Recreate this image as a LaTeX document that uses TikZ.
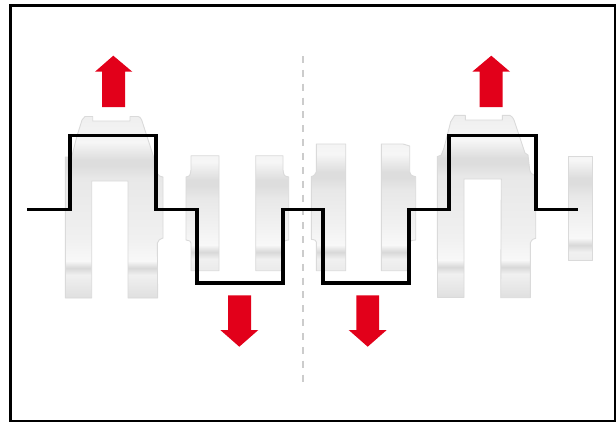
\documentclass[tikz,border=0pt]{standalone}
\definecolor{arrowred}{HTML}{E2001A}
\definecolor{edgegray}{HTML}{DADADA}
\definecolor{gA}{HTML}{EAEAEA}
\definecolor{gB}{HTML}{F6F6F6}
\definecolor{gC}{HTML}{DDDDDD}
\definecolor{gD}{HTML}{E8E8E8}
\definecolor{gDD}{HTML}{F0F0F0}
\definecolor{gE}{HTML}{F8F8F8}
\definecolor{gF}{HTML}{D8D8D8}
\definecolor{gG}{HTML}{F0F0F0}
\definecolor{gH}{HTML}{DEDEDE}
% shading in picture pixels: rectangle y=100..300 maps to 75bp..25bp
\newcommand{\declcrank}[3]{%
  \pgfmathsetmacro{\pa}{100-(#2+6)/4}%
  \pgfmathsetmacro{\pb}{100-#2/4}%
  \pgfmathsetmacro{\pc}{100-(#2-18)/4}%
  \pgfmathsetmacro{\pd}{100-(#3+7)/4}%
  \pgfmathsetmacro{\pe}{100-#3/4}%
  \pgfmathsetmacro{\pf}{100-(#3-7)/4}%
  \pgfmathsetmacro{\pg}{100-(#3-30)/4}%
  \pgfmathsetmacro{\ph}{100-(#2+18)/4}%
  \edef\tmpdecl{\noexpand\pgfdeclareverticalshading{#1}{100bp}{%
    color(0bp)=(gH); color(25bp)=(gH); color(\pd bp)=(gG); color(\pe bp)=(gF); color(\pf bp)=(gE);
    color(\pg bp)=(gDD); color(\ph bp)=(gD); color(\pa bp)=(gC); color(\pb bp)=(gC); color(\pc bp)=(gB); color(75bp)=(gA); color(100bp)=(gA)}}%
  \tmpdecl}
\declcrank{crankA}{160}{268}
\declcrank{crankB}{180}{252}
\declcrank{crankC}{172}{252}
\declcrank{crankD}{158}{267}
\declcrank{crankE}{178}{245}
\newcommand{\crank}[2]{%
  \begin{scope}
    \clip #2;
    \shade[shading=#1] (0,100) rectangle (616,300);
  \end{scope}
  \draw[piece] #2;}
\tikzset{
  piece/.style={draw=edgegray,line width=0.9pt,line join=round},
  bigarrow/.style={fill=arrowred,draw=none},
  wave/.style={draw=black,line width=3.7pt,line join=miter,line cap=butt},
  axisline/.style={draw=black!20,line width=2pt,dash pattern=on 7pt off 6.85pt},
  frameline/.style={draw=black,line width=3pt}
}
\begin{document}
\begin{tikzpicture}[x=1pt,y=-1pt]
\useasboundingbox (0,0) rectangle (616,421);
\fill[white] (0,0) rectangle (616,421);
\draw[frameline] (10.8,5.7) -- (615,5.7) -- (615,421) -- (10.8,421) -- cycle;
\draw[axisline] (303,56) -- (303,383);
% crank 1
\crank{crankA}{(65.3,298) -- (65.3,157) -- (71.7,157) -- (76.7,137) -- (82,120) .. controls (83,117.5) .. (85,116.5) -- (92.7,116.5) -- (92.7,121) -- (130,121) -- (130,116.5) -- (138,116.5) .. controls (140,117) .. (141.7,120) -- (153,155) -- (157,173) .. controls (159,176) .. (163,177) -- (163,238) .. controls (160,239) and (158,240) .. (157.4,243) -- (157.6,298) -- (128,298) -- (128,181) -- (91.7,181) -- (91.7,298) -- cycle}
% crank 2
\crank{crankB}{(191,155.7) -- (219,155.7) -- (219,270.7) -- (191,270.7) -- (191,243) .. controls (190.5,241) .. (186,240) -- (186,177) .. controls (190,176) .. (191,170) -- cycle}
\crank{crankB}{(255.7,155.7) -- (283,155.7) -- (283,170) .. controls (284,176) .. (288.7,177) -- (288.7,240) .. controls (285,240.5) .. (283,243) -- (283,270.7) -- (255.7,270.7) -- cycle}
% crank 3
\crank{crankC}{(316.3,144) -- (345.7,144) -- (345.7,270.7) -- (316.3,270.7) -- (316.3,242) .. controls (315.5,240) .. (311.3,239.3) -- (311.3,176.7) .. controls (315,175) .. (316.3,171.7) -- cycle}
\crank{crankC}{(381.3,144) -- (403,144) .. controls (406,144.5) .. (409.7,146) -- (409.7,171.7) .. controls (411,175.5) .. (415.7,176.7) -- (415.7,240) .. controls (411,240.5) .. (409.7,242) -- (407.3,270.7) -- (381.3,270.7) -- cycle}
% crank 4
\crank{crankD}{(437.5,297.3) -- (437.3,156.7) .. controls (440,156.5) .. (441.3,155) -- (444,148) -- (450.7,121.7) .. controls (452,118) .. (454.7,115.3) -- (465.3,115.3) -- (465.3,120) -- (502.3,120) -- (502.3,115.3) -- (509.7,115.3) .. controls (512,116.5) .. (514,120) -- (525,153) .. controls (526.5,154) .. (528,155) -- (529.7,170) .. controls (531,173.5) .. (533.7,175) -- (535.7,176) -- (535.7,238.3) .. controls (532,239.5) .. (530.3,243) -- (530.3,297.7) -- (500.7,297.7) -- (501.3,179) -- (464,179) -- (464,297.3) -- cycle}
% crank 5
\crank{crankE}{(568.3,156) -- (592.7,156) -- (592.7,260.7) -- (568.3,260.7) -- cycle}
% arrows
\fill[bigarrow] (113.3,55.7) -- (132.3,71.7) -- (125,71.7) -- (125,107) -- (102,107) -- (102,71.7) -- (95,71.7) -- cycle;
\fill[bigarrow] (491.3,55.7) -- (510,71.7) -- (502.7,71.7) -- (502.7,107) -- (479.7,107) -- (479.7,71.7) -- (472.3,71.7) -- cycle;
\fill[bigarrow] (239.3,346.7) -- (258.3,330) -- (251,330) -- (251,295.3) -- (228,295.3) -- (228,330) -- (220.3,330) -- cycle;
\fill[bigarrow] (367.7,346.7) -- (386.7,330) -- (379,330) -- (379,295.3) -- (356.3,295.3) -- (356.3,330) -- (348.7,330) -- cycle;
% wave
\draw[wave] (27.3,209.5) -- (70,209.5) -- (70,135.5) -- (156,135.5) -- (156,209.5) -- (196.7,209.5) -- (196.7,283) -- (283,283) -- (283,209.5) -- (323.3,209.5) -- (323.3,283) -- (409.3,283) -- (409.3,209.5) -- (449.3,209.5) -- (449.3,135.5) -- (535.7,135.5) -- (535.7,209.5) -- (578,209.5);
\end{tikzpicture}
\end{document}
